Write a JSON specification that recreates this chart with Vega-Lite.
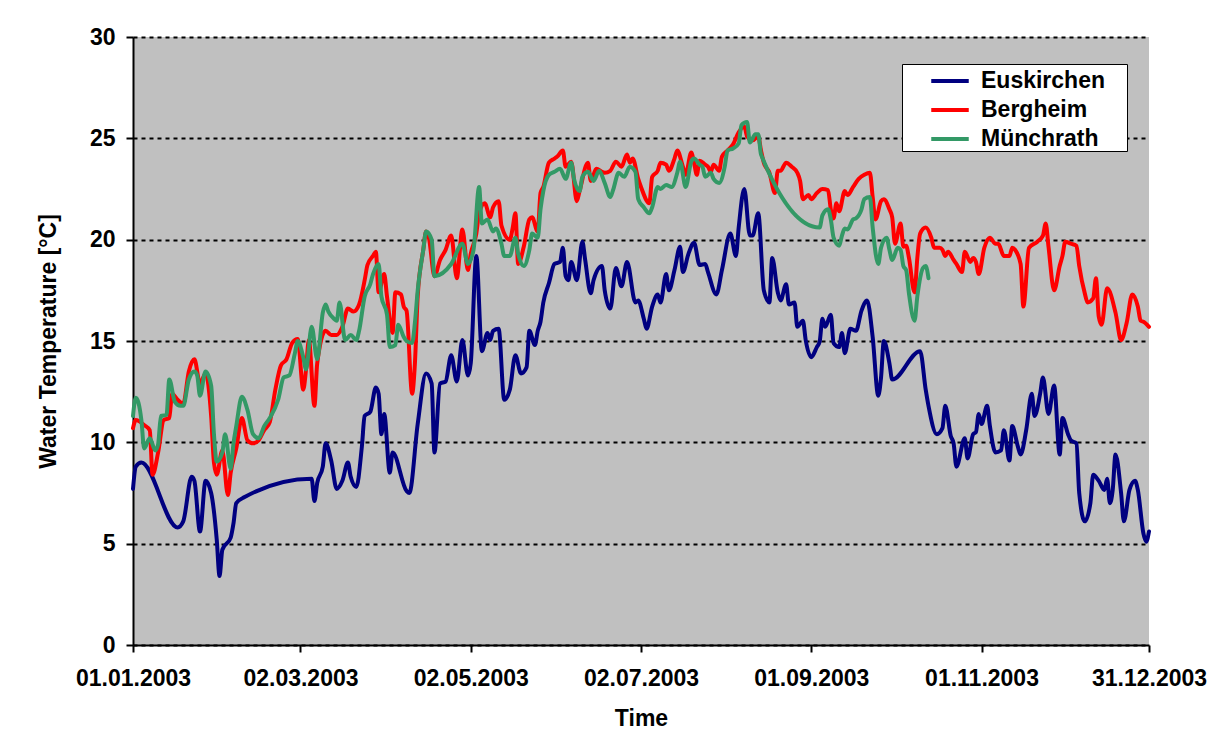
{
"$schema":"https://vega.github.io/schema/vega-lite/v6.json",
"width":1016,"height":608,
"autosize":{"type":"none"},
"padding":{"left":133,"top":37,"right":65,"bottom":111},
"background":"white",
"config":{
 "font":"Liberation Sans",
 "view":{"fill":"#C0C0C0","stroke":null},
 "axis":{"labelFont":"Liberation Sans","labelFontWeight":"bold","labelFontSize":23,"labelColor":"black","titleFont":"Liberation Sans","titleFontWeight":"bold","titleFontSize":23,"titleColor":"black","domainColor":"black","domainWidth":2,"tickColor":"black","tickWidth":2,"tickSize":7}
},
"data":{"values":[
{"station":"Euskirchen","date":"2003-01-01","temp":7.7},{"station":"Euskirchen","date":"2003-01-02","temp":8.8},{"station":"Euskirchen","date":"2003-01-04","temp":9.0},{"station":"Euskirchen","date":"2003-01-17","temp":5.8},{"station":"Euskirchen","date":"2003-01-19","temp":6.1},{"station":"Euskirchen","date":"2003-01-22","temp":8.3},{"station":"Euskirchen","date":"2003-01-23","temp":8.1},{"station":"Euskirchen","date":"2003-01-25","temp":5.6},{"station":"Euskirchen","date":"2003-01-27","temp":8.1},{"station":"Euskirchen","date":"2003-01-29","temp":7.5},{"station":"Euskirchen","date":"2003-01-31","temp":5.2},{"station":"Euskirchen","date":"2003-02-01","temp":3.4},{"station":"Euskirchen","date":"2003-02-02","temp":4.7},{"station":"Euskirchen","date":"2003-02-05","temp":5.3},{"station":"Euskirchen","date":"2003-02-06","temp":6.0},{"station":"Euskirchen","date":"2003-02-07","temp":7.0},{"station":"Euskirchen","date":"2003-02-10","temp":7.3},{"station":"Euskirchen","date":"2003-03-06","temp":8.2},{"station":"Euskirchen","date":"2003-03-07","temp":7.1},{"station":"Euskirchen","date":"2003-03-08","temp":8.0},{"station":"Euskirchen","date":"2003-03-10","temp":8.8},{"station":"Euskirchen","date":"2003-03-11","temp":9.95},{"station":"Euskirchen","date":"2003-03-13","temp":9.1},{"station":"Euskirchen","date":"2003-03-15","temp":7.7},{"station":"Euskirchen","date":"2003-03-17","temp":8.1},{"station":"Euskirchen","date":"2003-03-19","temp":9.0},{"station":"Euskirchen","date":"2003-03-20","temp":8.3},{"station":"Euskirchen","date":"2003-03-22","temp":7.8},{"station":"Euskirchen","date":"2003-03-24","temp":9.8},{"station":"Euskirchen","date":"2003-03-25","temp":11.3},{"station":"Euskirchen","date":"2003-03-27","temp":11.5},{"station":"Euskirchen","date":"2003-03-29","temp":12.7},{"station":"Euskirchen","date":"2003-03-30","temp":12.4},{"station":"Euskirchen","date":"2003-03-31","temp":10.4},{"station":"Euskirchen","date":"2003-04-01","temp":11.4},{"station":"Euskirchen","date":"2003-04-03","temp":8.5},{"station":"Euskirchen","date":"2003-04-04","temp":9.5},{"station":"Euskirchen","date":"2003-04-09","temp":7.6},{"station":"Euskirchen","date":"2003-04-10","temp":7.5},{"station":"Euskirchen","date":"2003-04-13","temp":10.9},{"station":"Euskirchen","date":"2003-04-16","temp":13.4},{"station":"Euskirchen","date":"2003-04-18","temp":12.9},{"station":"Euskirchen","date":"2003-04-19","temp":9.5},{"station":"Euskirchen","date":"2003-04-21","temp":12.9},{"station":"Euskirchen","date":"2003-04-23","temp":13.0},{"station":"Euskirchen","date":"2003-04-25","temp":14.3},{"station":"Euskirchen","date":"2003-04-27","temp":13.0},{"station":"Euskirchen","date":"2003-04-29","temp":15.05},{"station":"Euskirchen","date":"2003-05-01","temp":13.3},{"station":"Euskirchen","date":"2003-05-02","temp":13.9},{"station":"Euskirchen","date":"2003-05-04","temp":19.2},{"station":"Euskirchen","date":"2003-05-06","temp":14.5},{"station":"Euskirchen","date":"2003-05-08","temp":15.4},{"station":"Euskirchen","date":"2003-05-09","temp":15.05},{"station":"Euskirchen","date":"2003-05-10","temp":15.5},{"station":"Euskirchen","date":"2003-05-12","temp":15.6},{"station":"Euskirchen","date":"2003-05-14","temp":12.1},{"station":"Euskirchen","date":"2003-05-16","temp":12.6},{"station":"Euskirchen","date":"2003-05-18","temp":14.3},{"station":"Euskirchen","date":"2003-05-20","temp":13.4},{"station":"Euskirchen","date":"2003-05-22","temp":13.7},{"station":"Euskirchen","date":"2003-05-23","temp":15.5},{"station":"Euskirchen","date":"2003-05-25","temp":14.8},{"station":"Euskirchen","date":"2003-05-26","temp":15.5},{"station":"Euskirchen","date":"2003-05-27","temp":15.95},{"station":"Euskirchen","date":"2003-05-28","temp":16.9},{"station":"Euskirchen","date":"2003-05-30","temp":17.85},{"station":"Euskirchen","date":"2003-06-01","temp":18.8},{"station":"Euskirchen","date":"2003-06-03","temp":18.9},{"station":"Euskirchen","date":"2003-06-04","temp":19.6},{"station":"Euskirchen","date":"2003-06-05","temp":18.2},{"station":"Euskirchen","date":"2003-06-06","temp":18.0},{"station":"Euskirchen","date":"2003-06-07","temp":18.9},{"station":"Euskirchen","date":"2003-06-09","temp":18.0},{"station":"Euskirchen","date":"2003-06-11","temp":19.9},{"station":"Euskirchen","date":"2003-06-12","temp":19.0},{"station":"Euskirchen","date":"2003-06-14","temp":17.35},{"station":"Euskirchen","date":"2003-06-15","temp":18.0},{"station":"Euskirchen","date":"2003-06-18","temp":18.7},{"station":"Euskirchen","date":"2003-06-19","temp":17.5},{"station":"Euskirchen","date":"2003-06-21","temp":16.6},{"station":"Euskirchen","date":"2003-06-23","temp":18.6},{"station":"Euskirchen","date":"2003-06-25","temp":17.7},{"station":"Euskirchen","date":"2003-06-27","temp":18.9},{"station":"Euskirchen","date":"2003-06-30","temp":16.9},{"station":"Euskirchen","date":"2003-07-01","temp":17.0},{"station":"Euskirchen","date":"2003-07-03","temp":16.1},{"station":"Euskirchen","date":"2003-07-04","temp":15.6},{"station":"Euskirchen","date":"2003-07-06","temp":16.7},{"station":"Euskirchen","date":"2003-07-08","temp":17.3},{"station":"Euskirchen","date":"2003-07-09","temp":16.9},{"station":"Euskirchen","date":"2003-07-11","temp":18.3},{"station":"Euskirchen","date":"2003-07-12","temp":17.5},{"station":"Euskirchen","date":"2003-07-14","temp":18.5},{"station":"Euskirchen","date":"2003-07-16","temp":19.65},{"station":"Euskirchen","date":"2003-07-17","temp":18.4},{"station":"Euskirchen","date":"2003-07-19","temp":19.3},{"station":"Euskirchen","date":"2003-07-21","temp":19.85},{"station":"Euskirchen","date":"2003-07-23","temp":18.75},{"station":"Euskirchen","date":"2003-07-25","temp":18.8},{"station":"Euskirchen","date":"2003-07-26","temp":18.4},{"station":"Euskirchen","date":"2003-07-29","temp":17.3},{"station":"Euskirchen","date":"2003-07-31","temp":18.5},{"station":"Euskirchen","date":"2003-08-03","temp":20.3},{"station":"Euskirchen","date":"2003-08-05","temp":19.2},{"station":"Euskirchen","date":"2003-08-06","temp":20.6},{"station":"Euskirchen","date":"2003-08-08","temp":22.5},{"station":"Euskirchen","date":"2003-08-10","temp":20.2},{"station":"Euskirchen","date":"2003-08-11","temp":20.2},{"station":"Euskirchen","date":"2003-08-13","temp":21.3},{"station":"Euskirchen","date":"2003-08-15","temp":17.5},{"station":"Euskirchen","date":"2003-08-17","temp":16.9},{"station":"Euskirchen","date":"2003-08-18","temp":19.1},{"station":"Euskirchen","date":"2003-08-20","temp":17.4},{"station":"Euskirchen","date":"2003-08-21","temp":17.0},{"station":"Euskirchen","date":"2003-08-23","temp":17.8},{"station":"Euskirchen","date":"2003-08-24","temp":16.8},{"station":"Euskirchen","date":"2003-08-26","temp":16.9},{"station":"Euskirchen","date":"2003-08-27","temp":15.7},{"station":"Euskirchen","date":"2003-08-29","temp":16.0},{"station":"Euskirchen","date":"2003-08-30","temp":15.05},{"station":"Euskirchen","date":"2003-09-01","temp":14.2},{"station":"Euskirchen","date":"2003-09-03","temp":14.7},{"station":"Euskirchen","date":"2003-09-04","temp":14.96},{"station":"Euskirchen","date":"2003-09-05","temp":16.1},{"station":"Euskirchen","date":"2003-09-06","temp":15.7},{"station":"Euskirchen","date":"2003-09-08","temp":16.3},{"station":"Euskirchen","date":"2003-09-09","temp":14.9},{"station":"Euskirchen","date":"2003-09-11","temp":14.7},{"station":"Euskirchen","date":"2003-09-12","temp":15.4},{"station":"Euskirchen","date":"2003-09-13","temp":14.4},{"station":"Euskirchen","date":"2003-09-15","temp":15.6},{"station":"Euskirchen","date":"2003-09-17","temp":15.5},{"station":"Euskirchen","date":"2003-09-19","temp":16.5},{"station":"Euskirchen","date":"2003-09-21","temp":17.0},{"station":"Euskirchen","date":"2003-09-23","temp":15.2},{"station":"Euskirchen","date":"2003-09-25","temp":12.3},{"station":"Euskirchen","date":"2003-09-26","temp":13.2},{"station":"Euskirchen","date":"2003-09-27","temp":15.0},{"station":"Euskirchen","date":"2003-09-29","temp":13.9},{"station":"Euskirchen","date":"2003-09-30","temp":13.1},{"station":"Euskirchen","date":"2003-10-10","temp":14.5},{"station":"Euskirchen","date":"2003-10-12","temp":12.6},{"station":"Euskirchen","date":"2003-10-13","temp":11.8},{"station":"Euskirchen","date":"2003-10-16","temp":10.4},{"station":"Euskirchen","date":"2003-10-18","temp":10.7},{"station":"Euskirchen","date":"2003-10-19","temp":11.8},{"station":"Euskirchen","date":"2003-10-21","temp":10.3},{"station":"Euskirchen","date":"2003-10-22","temp":9.95},{"station":"Euskirchen","date":"2003-10-23","temp":8.8},{"station":"Euskirchen","date":"2003-10-26","temp":10.2},{"station":"Euskirchen","date":"2003-10-27","temp":9.2},{"station":"Euskirchen","date":"2003-10-29","temp":10.4},{"station":"Euskirchen","date":"2003-10-30","temp":10.5},{"station":"Euskirchen","date":"2003-10-31","temp":11.4},{"station":"Euskirchen","date":"2003-11-01","temp":10.9},{"station":"Euskirchen","date":"2003-11-03","temp":11.8},{"station":"Euskirchen","date":"2003-11-04","temp":10.8},{"station":"Euskirchen","date":"2003-11-06","temp":9.5},{"station":"Euskirchen","date":"2003-11-08","temp":9.6},{"station":"Euskirchen","date":"2003-11-09","temp":10.6},{"station":"Euskirchen","date":"2003-11-11","temp":9.1},{"station":"Euskirchen","date":"2003-11-12","temp":10.8},{"station":"Euskirchen","date":"2003-11-14","temp":9.8},{"station":"Euskirchen","date":"2003-11-15","temp":9.4},{"station":"Euskirchen","date":"2003-11-17","temp":10.6},{"station":"Euskirchen","date":"2003-11-19","temp":12.4},{"station":"Euskirchen","date":"2003-11-20","temp":11.3},{"station":"Euskirchen","date":"2003-11-22","temp":12.4},{"station":"Euskirchen","date":"2003-11-23","temp":13.2},{"station":"Euskirchen","date":"2003-11-25","temp":11.4},{"station":"Euskirchen","date":"2003-11-27","temp":12.8},{"station":"Euskirchen","date":"2003-11-29","temp":9.4},{"station":"Euskirchen","date":"2003-11-30","temp":11.2},{"station":"Euskirchen","date":"2003-12-02","temp":10.4},{"station":"Euskirchen","date":"2003-12-03","temp":10.1},{"station":"Euskirchen","date":"2003-12-05","temp":9.95},{"station":"Euskirchen","date":"2003-12-06","temp":7.5},{"station":"Euskirchen","date":"2003-12-08","temp":6.1},{"station":"Euskirchen","date":"2003-12-10","temp":7.0},{"station":"Euskirchen","date":"2003-12-11","temp":8.4},{"station":"Euskirchen","date":"2003-12-13","temp":8.1},{"station":"Euskirchen","date":"2003-12-15","temp":7.65},{"station":"Euskirchen","date":"2003-12-16","temp":8.2},{"station":"Euskirchen","date":"2003-12-17","temp":7.0},{"station":"Euskirchen","date":"2003-12-18","temp":7.65},{"station":"Euskirchen","date":"2003-12-19","temp":9.4},{"station":"Euskirchen","date":"2003-12-21","temp":7.5},{"station":"Euskirchen","date":"2003-12-22","temp":6.1},{"station":"Euskirchen","date":"2003-12-24","temp":7.65},{"station":"Euskirchen","date":"2003-12-26","temp":8.1},{"station":"Euskirchen","date":"2003-12-27","temp":7.65},{"station":"Euskirchen","date":"2003-12-29","temp":5.5},{"station":"Euskirchen","date":"2003-12-30","temp":5.1},{"station":"Euskirchen","date":"2003-12-31","temp":5.6},
{"station":"Bergheim","date":"2003-01-01","temp":10.7},{"station":"Bergheim","date":"2003-01-02","temp":11.1},{"station":"Bergheim","date":"2003-01-05","temp":10.85},{"station":"Bergheim","date":"2003-01-07","temp":10.6},{"station":"Bergheim","date":"2003-01-08","temp":8.4},{"station":"Bergheim","date":"2003-01-10","temp":9.5},{"station":"Bergheim","date":"2003-01-12","temp":11.1},{"station":"Bergheim","date":"2003-01-14","temp":11.2},{"station":"Bergheim","date":"2003-01-15","temp":12.4},{"station":"Bergheim","date":"2003-01-17","temp":12.1},{"station":"Bergheim","date":"2003-01-19","temp":11.9},{"station":"Bergheim","date":"2003-01-21","temp":13.5},{"station":"Bergheim","date":"2003-01-23","temp":14.1},{"station":"Bergheim","date":"2003-01-25","temp":12.9},{"station":"Bergheim","date":"2003-01-27","temp":13.4},{"station":"Bergheim","date":"2003-01-29","temp":11.3},{"station":"Bergheim","date":"2003-01-30","temp":9.0},{"station":"Bergheim","date":"2003-01-31","temp":8.4},{"station":"Bergheim","date":"2003-02-02","temp":9.6},{"station":"Bergheim","date":"2003-02-04","temp":7.4},{"station":"Bergheim","date":"2003-02-05","temp":8.5},{"station":"Bergheim","date":"2003-02-07","temp":9.7},{"station":"Bergheim","date":"2003-02-09","temp":11.2},{"station":"Bergheim","date":"2003-02-11","temp":10.1},{"station":"Bergheim","date":"2003-02-13","temp":9.95},{"station":"Bergheim","date":"2003-02-15","temp":10.1},{"station":"Bergheim","date":"2003-02-17","temp":10.6},{"station":"Bergheim","date":"2003-02-19","temp":11.0},{"station":"Bergheim","date":"2003-02-21","temp":12.6},{"station":"Bergheim","date":"2003-02-23","temp":13.8},{"station":"Bergheim","date":"2003-02-25","temp":14.1},{"station":"Bergheim","date":"2003-02-27","temp":14.9},{"station":"Bergheim","date":"2003-03-01","temp":15.1},{"station":"Bergheim","date":"2003-03-03","temp":12.6},{"station":"Bergheim","date":"2003-03-04","temp":13.6},{"station":"Bergheim","date":"2003-03-05","temp":15.05},{"station":"Bergheim","date":"2003-03-07","temp":11.8},{"station":"Bergheim","date":"2003-03-08","temp":13.9},{"station":"Bergheim","date":"2003-03-11","temp":15.5},{"station":"Bergheim","date":"2003-03-13","temp":15.3},{"station":"Bergheim","date":"2003-03-15","temp":15.3},{"station":"Bergheim","date":"2003-03-17","temp":15.7},{"station":"Bergheim","date":"2003-03-19","temp":16.6},{"station":"Bergheim","date":"2003-03-21","temp":16.45},{"station":"Bergheim","date":"2003-03-23","temp":16.8},{"station":"Bergheim","date":"2003-03-25","temp":18.0},{"station":"Bergheim","date":"2003-03-26","temp":18.75},{"station":"Bergheim","date":"2003-03-28","temp":19.2},{"station":"Bergheim","date":"2003-03-29","temp":19.4},{"station":"Bergheim","date":"2003-03-30","temp":17.4},{"station":"Bergheim","date":"2003-04-01","temp":18.3},{"station":"Bergheim","date":"2003-04-02","temp":17.2},{"station":"Bergheim","date":"2003-04-04","temp":15.4},{"station":"Bergheim","date":"2003-04-05","temp":17.4},{"station":"Bergheim","date":"2003-04-07","temp":17.3},{"station":"Bergheim","date":"2003-04-08","temp":16.7},{"station":"Bergheim","date":"2003-04-09","temp":16.5},{"station":"Bergheim","date":"2003-04-11","temp":12.4},{"station":"Bergheim","date":"2003-04-12","temp":13.9},{"station":"Bergheim","date":"2003-04-13","temp":17.2},{"station":"Bergheim","date":"2003-04-15","temp":19.5},{"station":"Bergheim","date":"2003-04-16","temp":20.4},{"station":"Bergheim","date":"2003-04-17","temp":20.1},{"station":"Bergheim","date":"2003-04-19","temp":18.2},{"station":"Bergheim","date":"2003-04-21","temp":19.0},{"station":"Bergheim","date":"2003-04-23","temp":19.5},{"station":"Bergheim","date":"2003-04-25","temp":20.2},{"station":"Bergheim","date":"2003-04-27","temp":18.1},{"station":"Bergheim","date":"2003-04-29","temp":20.5},{"station":"Bergheim","date":"2003-05-01","temp":18.5},{"station":"Bergheim","date":"2003-05-02","temp":19.3},{"station":"Bergheim","date":"2003-05-04","temp":20.3},{"station":"Bergheim","date":"2003-05-05","temp":21.3},{"station":"Bergheim","date":"2003-05-07","temp":21.8},{"station":"Bergheim","date":"2003-05-09","temp":21.1},{"station":"Bergheim","date":"2003-05-10","temp":21.6},{"station":"Bergheim","date":"2003-05-12","temp":21.9},{"station":"Bergheim","date":"2003-05-13","temp":20.7},{"station":"Bergheim","date":"2003-05-16","temp":20.0},{"station":"Bergheim","date":"2003-05-17","temp":20.55},{"station":"Bergheim","date":"2003-05-18","temp":21.3},{"station":"Bergheim","date":"2003-05-19","temp":18.8},{"station":"Bergheim","date":"2003-05-21","temp":19.65},{"station":"Bergheim","date":"2003-05-23","temp":21.0},{"station":"Bergheim","date":"2003-05-24","temp":21.1},{"station":"Bergheim","date":"2003-05-26","temp":20.4},{"station":"Bergheim","date":"2003-05-27","temp":22.3},{"station":"Bergheim","date":"2003-05-28","temp":22.6},{"station":"Bergheim","date":"2003-05-30","temp":23.8},{"station":"Bergheim","date":"2003-06-01","temp":24.0},{"station":"Bergheim","date":"2003-06-02","temp":24.1},{"station":"Bergheim","date":"2003-06-04","temp":24.4},{"station":"Bergheim","date":"2003-06-05","temp":23.6},{"station":"Bergheim","date":"2003-06-07","temp":23.85},{"station":"Bergheim","date":"2003-06-09","temp":21.9},{"station":"Bergheim","date":"2003-06-10","temp":22.4},{"station":"Bergheim","date":"2003-06-13","temp":23.8},{"station":"Bergheim","date":"2003-06-14","temp":22.9},{"station":"Bergheim","date":"2003-06-16","temp":23.5},{"station":"Bergheim","date":"2003-06-18","temp":23.35},{"station":"Bergheim","date":"2003-06-19","temp":23.3},{"station":"Bergheim","date":"2003-06-21","temp":23.4},{"station":"Bergheim","date":"2003-06-23","temp":23.85},{"station":"Bergheim","date":"2003-06-25","temp":23.6},{"station":"Bergheim","date":"2003-06-27","temp":24.2},{"station":"Bergheim","date":"2003-06-28","temp":23.8},{"station":"Bergheim","date":"2003-06-29","temp":24.0},{"station":"Bergheim","date":"2003-07-01","temp":23.0},{"station":"Bergheim","date":"2003-07-02","temp":22.6},{"station":"Bergheim","date":"2003-07-05","temp":21.8},{"station":"Bergheim","date":"2003-07-06","temp":23.1},{"station":"Bergheim","date":"2003-07-08","temp":23.4},{"station":"Bergheim","date":"2003-07-09","temp":23.8},{"station":"Bergheim","date":"2003-07-11","temp":23.7},{"station":"Bergheim","date":"2003-07-12","temp":23.4},{"station":"Bergheim","date":"2003-07-14","temp":24.0},{"station":"Bergheim","date":"2003-07-15","temp":24.4},{"station":"Bergheim","date":"2003-07-17","temp":23.6},{"station":"Bergheim","date":"2003-07-18","temp":23.2},{"station":"Bergheim","date":"2003-07-20","temp":24.3},{"station":"Bergheim","date":"2003-07-21","temp":23.8},{"station":"Bergheim","date":"2003-07-22","temp":23.2},{"station":"Bergheim","date":"2003-07-23","temp":23.9},{"station":"Bergheim","date":"2003-07-25","temp":23.7},{"station":"Bergheim","date":"2003-07-26","temp":23.6},{"station":"Bergheim","date":"2003-07-27","temp":23.35},{"station":"Bergheim","date":"2003-07-28","temp":23.7},{"station":"Bergheim","date":"2003-07-30","temp":23.4},{"station":"Bergheim","date":"2003-07-31","temp":24.1},{"station":"Bergheim","date":"2003-08-02","temp":24.4},{"station":"Bergheim","date":"2003-08-04","temp":24.7},{"station":"Bergheim","date":"2003-08-06","temp":25.3},{"station":"Bergheim","date":"2003-08-08","temp":25.6},{"station":"Bergheim","date":"2003-08-09","temp":25.1},{"station":"Bergheim","date":"2003-08-11","temp":24.9},{"station":"Bergheim","date":"2003-08-13","temp":25.1},{"station":"Bergheim","date":"2003-08-14","temp":24.4},{"station":"Bergheim","date":"2003-08-15","temp":23.8},{"station":"Bergheim","date":"2003-08-17","temp":23.3},{"station":"Bergheim","date":"2003-08-19","temp":22.3},{"station":"Bergheim","date":"2003-08-20","temp":23.4},{"station":"Bergheim","date":"2003-08-21","temp":23.4},{"station":"Bergheim","date":"2003-08-23","temp":23.8},{"station":"Bergheim","date":"2003-08-25","temp":23.6},{"station":"Bergheim","date":"2003-08-27","temp":23.3},{"station":"Bergheim","date":"2003-08-28","temp":22.9},{"station":"Bergheim","date":"2003-08-29","temp":22.0},{"station":"Bergheim","date":"2003-08-31","temp":22.2},{"station":"Bergheim","date":"2003-09-01","temp":22.0},{"station":"Bergheim","date":"2003-09-03","temp":22.3},{"station":"Bergheim","date":"2003-09-05","temp":22.5},{"station":"Bergheim","date":"2003-09-07","temp":22.45},{"station":"Bergheim","date":"2003-09-08","temp":21.5},{"station":"Bergheim","date":"2003-09-09","temp":21.05},{"station":"Bergheim","date":"2003-09-10","temp":21.8},{"station":"Bergheim","date":"2003-09-11","temp":21.4},{"station":"Bergheim","date":"2003-09-13","temp":22.4},{"station":"Bergheim","date":"2003-09-14","temp":22.2},{"station":"Bergheim","date":"2003-09-16","temp":22.6},{"station":"Bergheim","date":"2003-09-18","temp":23.0},{"station":"Bergheim","date":"2003-09-20","temp":23.2},{"station":"Bergheim","date":"2003-09-22","temp":23.3},{"station":"Bergheim","date":"2003-09-23","temp":22.1},{"station":"Bergheim","date":"2003-09-24","temp":21.0},{"station":"Bergheim","date":"2003-09-26","temp":21.9},{"station":"Bergheim","date":"2003-09-27","temp":22.0},{"station":"Bergheim","date":"2003-09-29","temp":21.5},{"station":"Bergheim","date":"2003-09-30","temp":21.1},{"station":"Bergheim","date":"2003-10-01","temp":19.8},{"station":"Bergheim","date":"2003-10-03","temp":20.8},{"station":"Bergheim","date":"2003-10-04","temp":19.65},{"station":"Bergheim","date":"2003-10-05","temp":19.7},{"station":"Bergheim","date":"2003-10-06","temp":19.1},{"station":"Bergheim","date":"2003-10-08","temp":17.4},{"station":"Bergheim","date":"2003-10-09","temp":19.1},{"station":"Bergheim","date":"2003-10-10","temp":20.3},{"station":"Bergheim","date":"2003-10-12","temp":20.6},{"station":"Bergheim","date":"2003-10-14","temp":20.1},{"station":"Bergheim","date":"2003-10-15","temp":19.6},{"station":"Bergheim","date":"2003-10-17","temp":19.6},{"station":"Bergheim","date":"2003-10-18","temp":19.5},{"station":"Bergheim","date":"2003-10-19","temp":19.2},{"station":"Bergheim","date":"2003-10-20","temp":19.4},{"station":"Bergheim","date":"2003-10-22","temp":19.0},{"station":"Bergheim","date":"2003-10-23","temp":18.8},{"station":"Bergheim","date":"2003-10-25","temp":18.4},{"station":"Bergheim","date":"2003-10-26","temp":19.4},{"station":"Bergheim","date":"2003-10-28","temp":18.9},{"station":"Bergheim","date":"2003-10-29","temp":19.1},{"station":"Bergheim","date":"2003-10-30","temp":18.9},{"station":"Bergheim","date":"2003-10-31","temp":18.3},{"station":"Bergheim","date":"2003-11-02","temp":19.6},{"station":"Bergheim","date":"2003-11-04","temp":20.1},{"station":"Bergheim","date":"2003-11-06","temp":19.8},{"station":"Bergheim","date":"2003-11-07","temp":19.8},{"station":"Bergheim","date":"2003-11-09","temp":19.2},{"station":"Bergheim","date":"2003-11-11","temp":19.2},{"station":"Bergheim","date":"2003-11-12","temp":19.6},{"station":"Bergheim","date":"2003-11-13","temp":19.5},{"station":"Bergheim","date":"2003-11-15","temp":18.8},{"station":"Bergheim","date":"2003-11-16","temp":16.7},{"station":"Bergheim","date":"2003-11-18","temp":19.6},{"station":"Bergheim","date":"2003-11-21","temp":19.9},{"station":"Bergheim","date":"2003-11-23","temp":20.2},{"station":"Bergheim","date":"2003-11-24","temp":20.8},{"station":"Bergheim","date":"2003-11-25","temp":19.65},{"station":"Bergheim","date":"2003-11-27","temp":17.5},{"station":"Bergheim","date":"2003-11-29","temp":18.7},{"station":"Bergheim","date":"2003-11-30","temp":19.2},{"station":"Bergheim","date":"2003-12-01","temp":19.9},{"station":"Bergheim","date":"2003-12-03","temp":19.8},{"station":"Bergheim","date":"2003-12-05","temp":19.7},{"station":"Bergheim","date":"2003-12-06","temp":18.7},{"station":"Bergheim","date":"2003-12-08","temp":17.35},{"station":"Bergheim","date":"2003-12-09","temp":16.9},{"station":"Bergheim","date":"2003-12-11","temp":17.1},{"station":"Bergheim","date":"2003-12-12","temp":18.1},{"station":"Bergheim","date":"2003-12-13","temp":16.2},{"station":"Bergheim","date":"2003-12-14","temp":15.8},{"station":"Bergheim","date":"2003-12-16","temp":17.6},{"station":"Bergheim","date":"2003-12-19","temp":16.4},{"station":"Bergheim","date":"2003-12-21","temp":15.05},{"station":"Bergheim","date":"2003-12-23","temp":15.9},{"station":"Bergheim","date":"2003-12-25","temp":17.3},{"station":"Bergheim","date":"2003-12-27","temp":16.7},{"station":"Bergheim","date":"2003-12-28","temp":16.0},{"station":"Bergheim","date":"2003-12-29","temp":15.95},{"station":"Bergheim","date":"2003-12-31","temp":15.7},
{"station":"Münchrath","date":"2003-01-01","temp":11.3},{"station":"Münchrath","date":"2003-01-02","temp":12.2},{"station":"Münchrath","date":"2003-01-04","temp":11.1},{"station":"Münchrath","date":"2003-01-05","temp":9.7},{"station":"Münchrath","date":"2003-01-07","temp":10.2},{"station":"Münchrath","date":"2003-01-09","temp":9.6},{"station":"Münchrath","date":"2003-01-10","temp":9.9},{"station":"Münchrath","date":"2003-01-11","temp":11.3},{"station":"Münchrath","date":"2003-01-13","temp":11.35},{"station":"Münchrath","date":"2003-01-14","temp":13.1},{"station":"Münchrath","date":"2003-01-16","temp":12.0},{"station":"Münchrath","date":"2003-01-18","temp":11.8},{"station":"Münchrath","date":"2003-01-19","temp":11.8},{"station":"Münchrath","date":"2003-01-21","temp":13.1},{"station":"Münchrath","date":"2003-01-23","temp":13.5},{"station":"Münchrath","date":"2003-01-24","temp":13.3},{"station":"Münchrath","date":"2003-01-25","temp":12.3},{"station":"Münchrath","date":"2003-01-27","temp":13.5},{"station":"Münchrath","date":"2003-01-29","temp":12.8},{"station":"Münchrath","date":"2003-01-30","temp":10.4},{"station":"Münchrath","date":"2003-01-31","temp":9.05},{"station":"Münchrath","date":"2003-02-02","temp":9.5},{"station":"Münchrath","date":"2003-02-03","temp":10.4},{"station":"Münchrath","date":"2003-02-05","temp":8.7},{"station":"Münchrath","date":"2003-02-06","temp":9.95},{"station":"Münchrath","date":"2003-02-07","temp":10.8},{"station":"Münchrath","date":"2003-02-09","temp":12.25},{"station":"Münchrath","date":"2003-02-11","temp":11.6},{"station":"Münchrath","date":"2003-02-13","temp":10.4},{"station":"Münchrath","date":"2003-02-15","temp":10.2},{"station":"Münchrath","date":"2003-02-17","temp":10.8},{"station":"Münchrath","date":"2003-02-19","temp":11.2},{"station":"Münchrath","date":"2003-02-22","temp":12.1},{"station":"Münchrath","date":"2003-02-24","temp":13.2},{"station":"Münchrath","date":"2003-02-26","temp":13.3},{"station":"Münchrath","date":"2003-02-28","temp":14.4},{"station":"Münchrath","date":"2003-03-01","temp":15.0},{"station":"Münchrath","date":"2003-03-03","temp":14.2},{"station":"Münchrath","date":"2003-03-04","temp":13.6},{"station":"Münchrath","date":"2003-03-06","temp":15.7},{"station":"Münchrath","date":"2003-03-08","temp":14.1},{"station":"Münchrath","date":"2003-03-10","temp":16.4},{"station":"Münchrath","date":"2003-03-11","temp":16.8},{"station":"Münchrath","date":"2003-03-12","temp":16.45},{"station":"Münchrath","date":"2003-03-14","temp":16.1},{"station":"Münchrath","date":"2003-03-15","temp":16.0},{"station":"Münchrath","date":"2003-03-16","temp":16.9},{"station":"Münchrath","date":"2003-03-18","temp":15.05},{"station":"Münchrath","date":"2003-03-20","temp":15.3},{"station":"Münchrath","date":"2003-03-22","temp":15.05},{"station":"Münchrath","date":"2003-03-23","temp":15.5},{"station":"Münchrath","date":"2003-03-25","temp":17.2},{"station":"Münchrath","date":"2003-03-27","temp":17.8},{"station":"Münchrath","date":"2003-03-28","temp":18.3},{"station":"Münchrath","date":"2003-03-30","temp":18.8},{"station":"Münchrath","date":"2003-03-31","temp":17.2},{"station":"Münchrath","date":"2003-04-02","temp":16.3},{"station":"Münchrath","date":"2003-04-03","temp":14.7},{"station":"Münchrath","date":"2003-04-05","temp":14.8},{"station":"Münchrath","date":"2003-04-06","temp":15.8},{"station":"Münchrath","date":"2003-04-08","temp":15.2},{"station":"Münchrath","date":"2003-04-09","temp":15.0},{"station":"Münchrath","date":"2003-04-11","temp":14.9},{"station":"Münchrath","date":"2003-04-12","temp":15.9},{"station":"Münchrath","date":"2003-04-13","temp":17.5},{"station":"Münchrath","date":"2003-04-15","temp":19.5},{"station":"Münchrath","date":"2003-04-16","temp":20.4},{"station":"Münchrath","date":"2003-04-18","temp":20.0},{"station":"Münchrath","date":"2003-04-19","temp":18.2},{"station":"Münchrath","date":"2003-04-25","temp":18.8},{"station":"Münchrath","date":"2003-04-29","temp":19.8},{"station":"Münchrath","date":"2003-05-01","temp":18.8},{"station":"Münchrath","date":"2003-05-03","temp":19.5},{"station":"Münchrath","date":"2003-05-05","temp":22.6},{"station":"Münchrath","date":"2003-05-06","temp":20.8},{"station":"Münchrath","date":"2003-05-08","temp":21.0},{"station":"Münchrath","date":"2003-05-10","temp":20.4},{"station":"Münchrath","date":"2003-05-11","temp":20.55},{"station":"Münchrath","date":"2003-05-13","temp":19.8},{"station":"Münchrath","date":"2003-05-14","temp":19.2},{"station":"Münchrath","date":"2003-05-16","temp":19.2},{"station":"Münchrath","date":"2003-05-18","temp":20.1},{"station":"Münchrath","date":"2003-05-19","temp":19.3},{"station":"Münchrath","date":"2003-05-21","temp":18.7},{"station":"Münchrath","date":"2003-05-23","temp":19.5},{"station":"Münchrath","date":"2003-05-24","temp":20.3},{"station":"Münchrath","date":"2003-05-26","temp":20.1},{"station":"Münchrath","date":"2003-05-27","temp":21.5},{"station":"Münchrath","date":"2003-05-28","temp":22.4},{"station":"Münchrath","date":"2003-05-30","temp":23.2},{"station":"Münchrath","date":"2003-06-01","temp":23.35},{"station":"Münchrath","date":"2003-06-03","temp":23.5},{"station":"Münchrath","date":"2003-06-05","temp":23.0},{"station":"Münchrath","date":"2003-06-07","temp":23.8},{"station":"Münchrath","date":"2003-06-08","temp":23.0},{"station":"Münchrath","date":"2003-06-10","temp":22.4},{"station":"Münchrath","date":"2003-06-11","temp":23.1},{"station":"Münchrath","date":"2003-06-13","temp":23.35},{"station":"Münchrath","date":"2003-06-15","temp":22.9},{"station":"Münchrath","date":"2003-06-17","temp":23.4},{"station":"Münchrath","date":"2003-06-19","temp":22.8},{"station":"Münchrath","date":"2003-06-21","temp":22.1},{"station":"Münchrath","date":"2003-06-22","temp":22.45},{"station":"Münchrath","date":"2003-06-24","temp":23.3},{"station":"Münchrath","date":"2003-06-26","temp":23.1},{"station":"Münchrath","date":"2003-06-28","temp":23.6},{"station":"Münchrath","date":"2003-06-30","temp":23.35},{"station":"Münchrath","date":"2003-07-01","temp":22.0},{"station":"Münchrath","date":"2003-07-03","temp":21.6},{"station":"Münchrath","date":"2003-07-05","temp":21.3},{"station":"Münchrath","date":"2003-07-06","temp":21.6},{"station":"Münchrath","date":"2003-07-08","temp":22.6},{"station":"Münchrath","date":"2003-07-09","temp":22.5},{"station":"Münchrath","date":"2003-07-11","temp":22.7},{"station":"Münchrath","date":"2003-07-13","temp":22.6},{"station":"Münchrath","date":"2003-07-15","temp":23.3},{"station":"Münchrath","date":"2003-07-16","temp":23.85},{"station":"Münchrath","date":"2003-07-18","temp":22.6},{"station":"Münchrath","date":"2003-07-20","temp":23.85},{"station":"Münchrath","date":"2003-07-21","temp":24.0},{"station":"Münchrath","date":"2003-07-23","temp":23.7},{"station":"Münchrath","date":"2003-07-24","temp":23.6},{"station":"Münchrath","date":"2003-07-25","temp":23.1},{"station":"Münchrath","date":"2003-07-27","temp":23.3},{"station":"Münchrath","date":"2003-07-28","temp":23.0},{"station":"Münchrath","date":"2003-07-30","temp":22.8},{"station":"Münchrath","date":"2003-08-01","temp":23.6},{"station":"Münchrath","date":"2003-08-02","temp":24.4},{"station":"Münchrath","date":"2003-08-04","temp":24.5},{"station":"Münchrath","date":"2003-08-06","temp":24.75},{"station":"Münchrath","date":"2003-08-07","temp":25.65},{"station":"Münchrath","date":"2003-08-09","temp":25.8},{"station":"Münchrath","date":"2003-08-10","temp":24.8},{"station":"Münchrath","date":"2003-08-12","temp":25.2},{"station":"Münchrath","date":"2003-08-13","temp":25.2},{"station":"Münchrath","date":"2003-08-14","temp":24.2},{"station":"Münchrath","date":"2003-09-04","temp":20.6},{"station":"Münchrath","date":"2003-09-05","temp":21.2},{"station":"Münchrath","date":"2003-09-07","temp":21.5},{"station":"Münchrath","date":"2003-09-08","temp":21.0},{"station":"Münchrath","date":"2003-09-09","temp":20.1},{"station":"Münchrath","date":"2003-09-11","temp":19.7},{"station":"Münchrath","date":"2003-09-12","temp":20.2},{"station":"Münchrath","date":"2003-09-13","temp":20.55},{"station":"Münchrath","date":"2003-09-14","temp":20.5},{"station":"Münchrath","date":"2003-09-16","temp":21.0},{"station":"Münchrath","date":"2003-09-17","temp":21.05},{"station":"Münchrath","date":"2003-09-19","temp":21.5},{"station":"Münchrath","date":"2003-09-20","temp":22.0},{"station":"Münchrath","date":"2003-09-22","temp":22.1},{"station":"Münchrath","date":"2003-09-23","temp":20.6},{"station":"Münchrath","date":"2003-09-25","temp":18.8},{"station":"Münchrath","date":"2003-09-26","temp":19.6},{"station":"Münchrath","date":"2003-09-28","temp":20.1},{"station":"Münchrath","date":"2003-09-29","temp":19.5},{"station":"Münchrath","date":"2003-09-30","temp":19.0},{"station":"Münchrath","date":"2003-10-02","temp":19.6},{"station":"Münchrath","date":"2003-10-03","temp":19.5},{"station":"Münchrath","date":"2003-10-04","temp":18.7},{"station":"Münchrath","date":"2003-10-05","temp":18.5},{"station":"Münchrath","date":"2003-10-06","temp":17.35},{"station":"Münchrath","date":"2003-10-08","temp":16.0},{"station":"Münchrath","date":"2003-10-09","temp":17.2},{"station":"Münchrath","date":"2003-10-11","temp":18.6},{"station":"Münchrath","date":"2003-10-12","temp":18.7},{"station":"Münchrath","date":"2003-10-13","temp":18.1}
]},
"encoding":{
 "x":{"field":"date","type":"temporal","scale":{"type":"utc","domain":[{"year":2003,"month":1,"date":1,"utc":true},{"year":2003,"month":12,"date":31,"utc":true}]},
  "axis":{"title":"Time","values":[{"year":2003,"month":1,"date":1,"utc":true},{"year":2003,"month":3,"date":2,"utc":true},{"year":2003,"month":5,"date":2,"utc":true},{"year":2003,"month":7,"date":2,"utc":true},{"year":2003,"month":9,"date":1,"utc":true},{"year":2003,"month":11,"date":1,"utc":true},{"year":2003,"month":12,"date":31,"utc":true}],"format":"%d.%m.%Y","grid":false,"labelFlush":false,"labelOverlap":false,"labelPadding":15,"titlePadding":17}},
 "y":{"field":"temp","type":"quantitative","scale":{"domain":[0,30],"nice":false,"zero":true},
  "axis":{"title":"Water Temperature [°C]","values":[0,5,10,15,20,25,30],"grid":true,"gridColor":"black","gridDash":[4,4],"gridWidth":2,"labelPadding":11,"titlePadding":29}},
 "color":{"field":"station","type":"nominal","scale":{"domain":["Euskirchen","Bergheim","Münchrath"],"range":["#000080","#FF0000","#339966"]},
  "legend":{"title":"\u00a0","titleOrient":"right","titlePadding":22,"titleFontSize":4,"orient":"none","legendX":769,"legendY":27,"fillColor":"white","strokeColor":"black","padding":0,"symbolType":"M-1.25,0H1.25","symbolStrokeWidth":4,"symbolSize":900,"symbolOffset":31,"labelFont":"Liberation Sans","labelFontSize":23,"labelFontWeight":"bold","labelColor":"black","labelOffset":14,"rowPadding":0}}
},
"layer":[
 {"transform":[{"filter":"datum.station === 'Euskirchen'"}],"mark":{"type":"line","interpolate":"monotone","strokeWidth":4,"strokeJoin":"round","strokeCap":"round"}},
 {"transform":[{"filter":"datum.station === 'Bergheim'"}],"mark":{"type":"line","interpolate":"monotone","strokeWidth":4,"strokeJoin":"round","strokeCap":"round"}},
 {"transform":[{"filter":"datum.station === 'Münchrath'"}],"mark":{"type":"line","interpolate":"monotone","strokeWidth":4,"strokeJoin":"round","strokeCap":"round"}}
]
}
